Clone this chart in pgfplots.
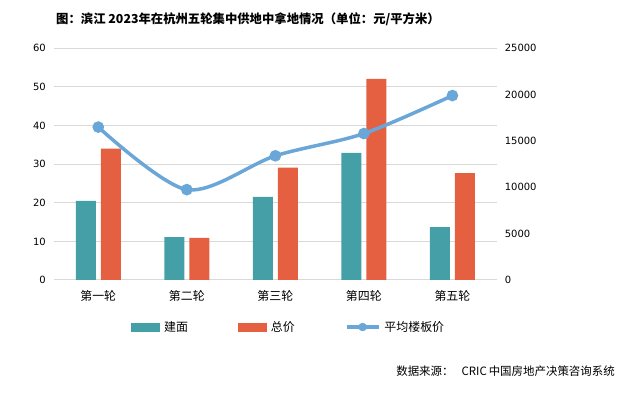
\documentclass[border=0pt]{standalone}
\usepackage{pgfplots}
\pgfplotsset{compat=1.18}
\usepackage{fontspec}
\setmainfont{DejaVu Sans}
\newfontfamily\cjk{Noto Sans CJK SC}
\definecolor{teal1}{HTML}{449FA6}
\definecolor{orange1}{HTML}{E46041}
\definecolor{lineblue}{HTML}{6AA7D8}
\definecolor{gridgray}{HTML}{D9D9D9}
\begin{document}
\begin{tikzpicture}
\path[use as bounding box] (0,0) rectangle (627bp,398bp);
\begin{axis}[
  at={(54bp,118bp)}, anchor=south west,
  scale only axis, width=442.7bp, height=231.7bp,
  xmin=-0.5, xmax=4.5, ymin=0, ymax=60,
  ytick={0,10,20,30,40,50,60},
  xtick={0,1,2,3,4},
  xticklabels={第一轮,第二轮,第三轮,第四轮,第五轮},
  xticklabel style={font=\cjk\fontsize{12}{14}\selectfont, inner sep=0pt, anchor=north, yshift=-10bp},
  yticklabel style={font=\fontsize{10}{12}\selectfont, inner sep=0pt, anchor=east, xshift=-8bp},
  /pgf/number format/assume math mode=true,
  axis line style={draw=none},
  major tick length=0pt,
  ymajorgrids, major grid style={gridgray, line width=1bp},
  legend style={draw=none, fill=none, legend columns=3, at={(0.53,-0.203)}, anchor=center,
    font=\cjk\fontsize{12}{14}\selectfont,
    /tikz/every even column/.append style={column sep=48bp},
    /tikz/every odd column/.append style={column sep=2bp}},
  clip=false,
]
\addplot[ybar, fill=teal1, draw=none, bar width=20bp, bar shift=-12.5bp,
  legend image code/.code={\fill[teal1] (0bp,-4.5bp) rectangle (29bp,4.5bp);}]
  coordinates {(0,20.5) (1,11.1) (2,21.5) (3,32.9) (4,13.7)};
\addlegendentry{建面}
\addplot[ybar, fill=orange1, draw=none, bar width=20bp, bar shift=12.5bp,
  legend image code/.code={\fill[orange1] (0bp,-4.5bp) rectangle (29bp,4.5bp);}]
  coordinates {(0,34.0) (1,10.9) (2,29.1) (3,52.1) (4,27.7)};
\addlegendentry{总价}
\addlegendimage{legend image code/.code={\draw[lineblue, line width=3.5bp] (0bp,0bp)--(32bp,0bp); \fill[lineblue] (16bp,0bp) circle (4bp);}}
\addlegendentry{平均楼板价}
\end{axis}
\begin{axis}[
  at={(54bp,118bp)}, anchor=south west,
  scale only axis, width=442.7bp, height=231.7bp,
  xmin=-0.5, xmax=4.5, ymin=0, ymax=25000,
  ytick={0,5000,10000,15000,20000,25000},
  scaled y ticks=false,
  /pgf/number format/1000 sep={},
  /pgf/number format/assume math mode=true,
  axis y line*=right, axis x line=none,
  y axis line style={draw=none},
  yticklabel style={font=\fontsize{10}{12}\selectfont, inner sep=0pt, anchor=west, xshift=8bp},
  major tick length=0pt,
  clip=false,
]
\addplot[lineblue, line width=3.5bp, smooth, tension=0.5, mark=*, mark size=4bp,
  mark options={fill=lineblue, draw=none}]
  coordinates {(0,16500) (1,9750) (2,13400) (3,15800) (4,19900)};
\end{axis}
\node[font=\cjk\bfseries\fontsize{12.4}{14}\selectfont] at (248bp,379bp) {图：滨江 2023年在杭州五轮集中供地中拿地情况（单位：元/平方米）};
\node[font=\cjk\fontsize{11.5}{13}\selectfont, anchor=east, inner sep=0pt] at (615bp,27bp) {数据来源：\hspace{8bp}CRIC\,中国房地产决策咨询系统};
\end{tikzpicture}
\end{document}
